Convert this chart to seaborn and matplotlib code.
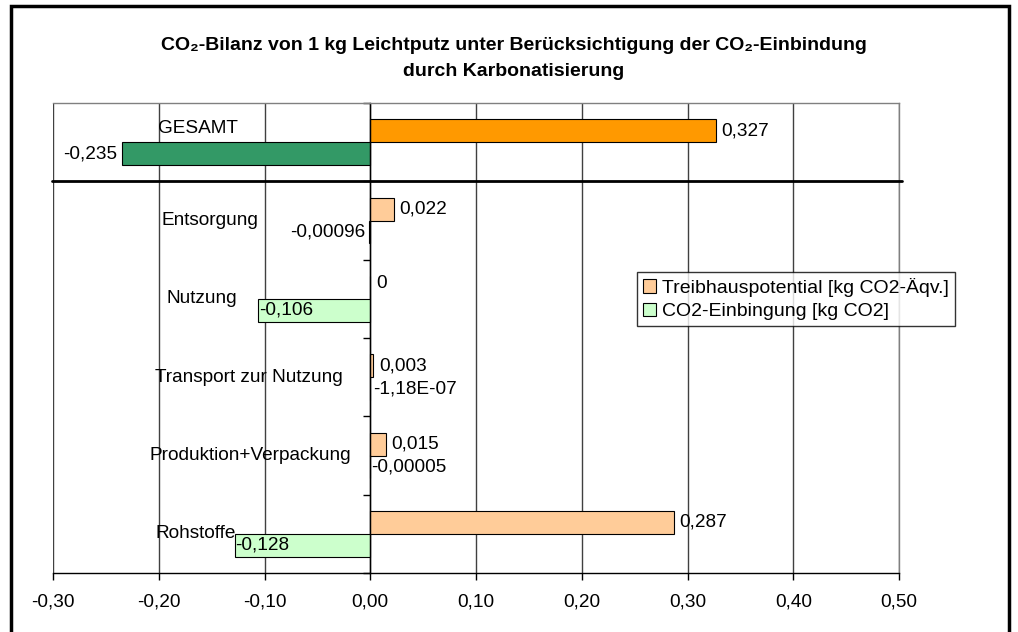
import matplotlib
matplotlib.use("Agg")
import matplotlib.pyplot as plt
import seaborn as sns
import pandas as pd
import numpy as np
from matplotlib.patches import Rectangle

# Daten
categories = ["GESAMT", "Entsorgung", "Nutzung", "Transport zur Nutzung",
              "Produktion+Verpackung", "Rohstoffe"]
treibhaus = [0.327, 0.022, 0.0, 0.003, 0.015, 0.287]
einbindung = [-0.235, -0.00096, -0.106, -1.18e-07, -0.00005, -0.128]
treibhaus_labels = ["0,327", "0,022", "0", "0,003", "0,015", "0,287"]
einbindung_labels = ["-0,235", "-0,00096", "-0,106", "-1,18E-07", "-0,00005", "-0,128"]
series = ["Treibhauspotential [kg CO2-Äqv.]", "CO2-Einbingung [kg CO2]"]
xticks = [-0.30, -0.20, -0.10, 0.00, 0.10, 0.20, 0.30, 0.40, 0.50]
xtick_labels = ["-0,30", "-0,20", "-0,10", "0,00", "0,10", "0,20", "0,30", "0,40", "0,50"]

# Position/Ausrichtung der Beschriftungen
cat_label_x = [-0.201, -0.197, -0.193, -0.204, -0.2085, -0.203]
cat_label_dy = [-0.18, 0, 0, 0, 0, 0]
treib_dy = [0, 0, 3, 0, 0, 0]
einb_ha = ["right", "right", "left", "left", "left", "left"]
einb_dx = [-3, -3, 1, 2, 1, 0]

light_colors = ["#FFCC99", "#CCFFCC"]
dark_colors = ["#FF9900", "#339966"]
FS = 13.7

df = pd.DataFrame({
    "Kategorie": categories * 2,
    "Reihe": [series[0]] * len(categories) + [series[1]] * len(categories),
    "Wert": treibhaus + einbindung,
})

sns.set_style("white")
plt.rcParams["font.family"] = ["Liberation Sans", "DejaVu Sans"]
plt.rcParams["text.color"] = "black"
plt.rcParams["xtick.color"] = "black"
plt.rcParams["xtick.labelcolor"] = "black"

fig = plt.figure(figsize=(10.18, 6.32), dpi=100)
ax = fig.add_axes([53 / 1018, 59 / 632, 846 / 1018, 470 / 632])

sns.barplot(data=df, y="Kategorie", x="Wert", hue="Reihe", order=categories,
            hue_order=series, palette=light_colors, saturation=1, width=0.58,
            orient="h", edgecolor="black", linewidth=0.8, errorbar=None, ax=ax)

# GESAMT in kräftigen Farben
ax.containers[0][0].set_facecolor(dark_colors[0])
ax.containers[1][0].set_facecolor(dark_colors[1])

ax.set_xlim(-0.30, 0.50)
ax.set_ylim(5.5, -0.5)
ax.set_xlabel("")
ax.set_ylabel("")

# Gitter
for x in xticks:
    ax.axvline(x, color="#404040", lw=1, zorder=0)

ax.spines["left"].set_position(("data", 0))
ax.spines["left"].set_color("black")
ax.spines["bottom"].set_color("black")
ax.spines["top"].set_color("#808080")
ax.spines["right"].set_color("#808080")
for s in ax.spines.values():
    s.set_linewidth(1)

ax.set_yticks([])
ax.set_yticks(np.arange(-0.5, 6, 1), minor=True)
ax.tick_params(axis="y", which="minor", left=True, length=5, width=1, color="black")
ax.set_xticks(xticks)
ax.set_xticklabels(xtick_labels)
ax.tick_params(axis="x", bottom=True, direction="out", length=5, width=1,
               color="black", labelcolor="black", labelsize=FS, pad=10)

# Trennlinie unter GESAMT
ax.axhline(0.5, xmin=-0.001, xmax=1.004, color="black", lw=2, clip_on=False, zorder=5)

# Kategorienamen
for i, name in enumerate(categories):
    ax.text(cat_label_x[i], i + cat_label_dy[i], name, ha="left", va="center",
            fontsize=FS, color="black", zorder=6)

# Wertebeschriftungen
for i, bar in enumerate(ax.containers[0]):
    end = bar.get_x() + bar.get_width()
    yc = bar.get_y() + bar.get_height() / 2
    ax.annotate(treibhaus_labels[i], xy=(end, yc), xytext=(4, treib_dy[i]),
                textcoords="offset points", ha="left", va="center", fontsize=FS,
                color="black", zorder=6)
for i, bar in enumerate(ax.containers[1]):
    end = min(bar.get_x(), bar.get_x() + bar.get_width())
    yc = bar.get_y() + bar.get_height() / 2
    ax.annotate(einbindung_labels[i], xy=(end, yc), xytext=(einb_dx[i], 0),
                textcoords="offset points", ha=einb_ha[i], va="center", fontsize=FS,
                color="black", zorder=6)

# Legende
handles, labels = ax.get_legend_handles_labels()
ax.get_legend().remove()
leg = fig.legend(handles, labels, loc="upper left", bbox_to_anchor=(637 / 1018, 1 - 272 / 632),
                 fontsize=14, frameon=True, fancybox=False, edgecolor="black",
                 handlelength=0.7, handleheight=0.7, handletextpad=0.3,
                 borderpad=0.3, labelspacing=0.3, borderaxespad=0)
leg.get_frame().set_linewidth(1)
for t in leg.get_texts():
    t.set_color("black")

# Titel
fig.text(0.505, 1 - 45 / 632, "CO₂-Bilanz von 1 kg Leichtputz unter Berücksichtigung der CO₂-Einbindung",
         ha="center", va="center", fontsize=14, fontweight="bold", color="black")
fig.text(0.505, 1 - 72 / 632, "durch Karbonatisierung",
         ha="center", va="center", fontsize=14, fontweight="bold", color="black")

# Rahmen
fig.patches.append(Rectangle((11 / 1018, -0.05), 998 / 1018, 1.05 - 6 / 632,
                             transform=fig.transFigure, fill=False, lw=2.5,
                             edgecolor="black"))

fig.savefig("out.png", dpi=100)
